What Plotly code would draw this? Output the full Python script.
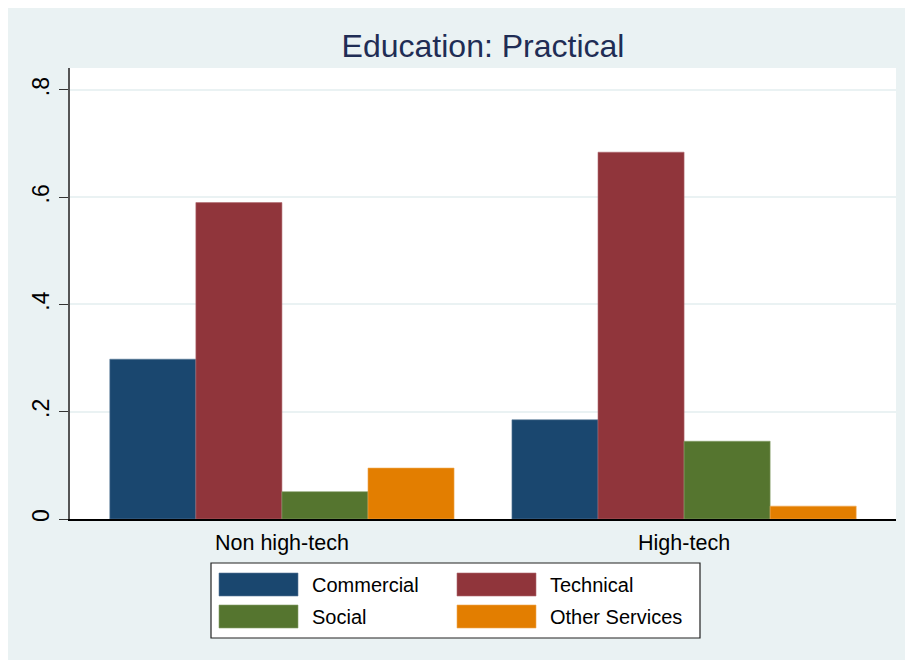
import plotly.graph_objects as go

categories = ["Non high-tech", "High-tech"]
series_names = ["Commercial", "Technical", "Social", "Other Services"]
commercial = [0.298, 0.185]
technical = [0.590, 0.684]
social = [0.051, 0.145]
other_services = [0.095, 0.024]
series_values = [commercial, technical, social, other_services]
colors = ["#1A476F", "#90353B", "#55752F", "#E37E00"]
outline_colors = ["#5A7A98", "#B06A70", "#86A06A", "#F0A850"]
y_tick_vals = [0, 0.2, 0.4, 0.6, 0.8]
y_tick_text = ["0", ".2", ".4", ".6", ".8"]

W, H = 905, 660
OFF = 8  # page body margin
L, R, T, B = 70 - OFF, 896 - OFF, 68 - OFF, 519 - OFF  # plot area in figure pixels
FONT = "Arial, Liberation Sans, sans-serif"
BG = "#EAF2F3"


def px_x(p):
    return (p - OFF - L) / (R - L)


def px_y(p):
    return (B - (p - OFF)) / (B - T)


fig = go.Figure()
for name, vals, c, oc in zip(series_names, series_values, colors, outline_colors):
    fig.add_trace(go.Bar(
        x=categories, y=vals, name=name,
        marker=dict(color=c, line=dict(color=oc, width=0.6)),
        showlegend=False,
    ))

shapes = [
    # legend box
    dict(type="rect", xref="paper", yref="paper", layer="above",
         x0=px_x(211), x1=px_x(700), y0=px_y(638), y1=px_y(563),
         fillcolor="white", line=dict(color="#222222", width=1.2)),
]
annotations = []
col_x = [219, 457]
for i, (name, c, oc) in enumerate(zip(series_names, colors, outline_colors)):
    col, row = i % 2, i // 2
    x0 = col_x[col]
    y0 = 573 + row * 32
    shapes.append(dict(type="rect", xref="paper", yref="paper", layer="above",
                       x0=px_x(x0), x1=px_x(x0 + 79), y0=px_y(y0 + 23), y1=px_y(y0),
                       fillcolor=c, line=dict(color=oc, width=0.6)))
    annotations.append(dict(xref="paper", yref="paper", x=px_x(x0 + 91), y=px_y(y0 + 12),
                            xanchor="left", yanchor="middle", showarrow=False,
                            text=name, font=dict(family=FONT, size=20, color="black")))

fig.update_layout(
    width=W, height=H,
    margin=dict(l=L, r=W - R, t=T, b=H - B, pad=0),
    paper_bgcolor=BG, plot_bgcolor="white",
    barmode="group", bargap=0.144, bargroupgap=0,
    title=dict(text="Education: Practical", x=0.5, xref="paper", xanchor="center",
               y=(H - (46 - OFF)) / H, yref="container", yanchor="middle",
               font=dict(family=FONT, size=32, color="#1F2D55")),
    shapes=shapes, annotations=annotations,
    font=dict(family=FONT),
)
fig.update_xaxes(
    range=[-0.527, 1.527], showline=True, linecolor="black", linewidth=1.5,
    ticks="", showgrid=False, zeroline=False, ticklabelstandoff=3,
    tickfont=dict(family=FONT, size=21.5, color="black"),
)
fig.update_yaxes(
    range=[0, 0.841], tickvals=y_tick_vals, ticktext=y_tick_text,
    showline=True, linecolor="#555555", linewidth=1.5,
    ticks="outside", ticklen=9, tickcolor="#333333", tickwidth=1.2,
    showgrid=True, gridcolor=BG, gridwidth=1.5, zeroline=False,
    tickangle=-90, ticklabelstandoff=1,
    tickfont=dict(family=FONT, size=23, color="black"),
)

fig.write_html(
    "out.html",
    post_script="document.documentElement.style.overflow='hidden';"
                "document.body.style.overflow='hidden';"
                "document.body.style.margin='8px 0 0 8px';"
                "document.body.style.minHeight='700px';",
)
